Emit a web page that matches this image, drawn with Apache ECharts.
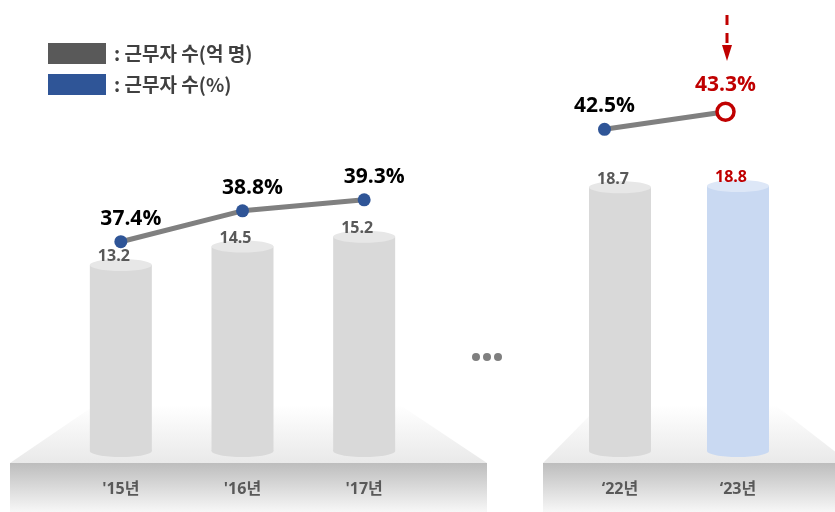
<!DOCTYPE html>
<html>
<head>
<meta charset="utf-8">
<script src="https://cdn.jsdelivr.net/npm/echarts@6/dist/echarts.min.js"></script>
<style>
  html, body { margin: 0; padding: 0; background: #fff; }
  #main { width: 835px; height: 512px; }
</style>
</head>
<body>
<div id="main"></div>
<script>
// data
var yearsA = ["'15년", "'16년", "'17년"];
var yearsB = ["‘22년", "‘23년"];
var workersA = [13.2, 14.5, 15.2];   // 억 명
var workersB = [18.7, 18.8];
var shareA = [37.4, 38.8, 39.3];     // %
var shareB = [42.5, 43.3];

var nameCount = ': 근무자 수(억 명)';
var nameShare = ': 근무자 수(%)';
var FONT = '"Open Sans", "Noto Sans CJK KR", sans-serif';
var FONT_KR = '"Noto Sans CJK KR", "Noto Sans", sans-serif';

var dom = document.getElementById('main');
var myChart = echarts.init(dom);

// cylinder bars (hiIndex = highlighted bar, -1 for none)
function cylinder(hiIndex) {
    return function (params, api) {
        var top = api.coord([api.value(0), api.value(1)]);
        var base = api.coord([api.value(0), 0]);
        var w = 62, ry = 6, cx = top[0];
        var hi = params.dataIndex === hiIndex;
        var body = hi ? '#c9d9f2' : '#d9d9d9';
        var cap = hi ? '#dde7f7' : '#e7e7e7';
        return {
            type: 'group',
            children: [
                { type: 'ellipse', shape: { cx: cx, cy: base[1], rx: w / 2, ry: ry }, style: { fill: body } },
                { type: 'rect', shape: { x: cx - w / 2, y: top[1], width: w, height: base[1] - top[1] }, style: { fill: body } },
                { type: 'ellipse', shape: { cx: cx, cy: top[1], rx: w / 2, ry: ry }, style: { fill: cap } },
                {
                    type: 'text',
                    style: {
                        text: api.value(1).toFixed(1),
                        x: cx - 7, y: top[1] - 8,
                        align: 'center', verticalAlign: 'middle',
                        textAlign: 'center', textVerticalAlign: 'middle',
                        fill: hi ? '#c00000' : '#595959',
                        font: 'bold 16px ' + FONT
                    }
                }
            ]
        };
    };
}

function lineData(values, hiLast) {
    return values.map(function (v, i) {
        if (hiLast && i === values.length - 1) {
            return {
                value: v,
                symbolSize: 17,
                itemStyle: { color: '#fff', borderColor: '#c00000', borderWidth: 3.5 },
                label: { color: '#c00000' }
            };
        }
        return v;
    });
}

var pctLabel = {
    show: true,
    position: 'top',
    distance: 6,
    formatter: '{c}%',
    color: '#000',
    fontSize: 21,
    fontWeight: 'bold',
    fontFamily: FONT
};

var catLabel = {
    margin: 30,
    color: '#595959',
    fontSize: 16,
    fontWeight: 'bold',
    fontFamily: FONT
};

var platformTop = new echarts.graphic.LinearGradient(0, 0, 0, 1, [
    { offset: 0, color: '#ffffff' }, { offset: 1, color: '#e9e9e9' }
]);
var platformFront = new echarts.graphic.LinearGradient(0, 0, 0, 1, [
    { offset: 0, color: '#bdbdbd' }, { offset: 1, color: '#f7f7f7' }
]);

var option = {
    animation: false,
    legend: {
        orient: 'vertical',
        left: 48,
        top: 43,
        padding: 0,
        itemWidth: 58,
        itemHeight: 21,
        itemGap: 10,
        selectedMode: false,
        textStyle: { color: '#404040', fontSize: 19, fontWeight: 'bold', fontFamily: FONT_KR, padding: [0, 0, 0, 3] },
        data: [
            { name: nameCount, icon: 'rect', itemStyle: { color: '#595959' } },
            { name: nameShare, icon: 'rect', itemStyle: { color: '#2f5597', borderWidth: 0 } }
        ]
    },
    grid: [
        { left: 60, width: 365, top: 28, bottom: 61 },
        { left: 561, width: 236, top: 28, bottom: 61 },
        { left: 544, width: 242, top: 28, bottom: 61 }
    ],
    xAxis: [
        { gridIndex: 0, type: 'category', data: yearsA, z: 10, axisLine: { show: false }, axisTick: { show: false }, axisLabel: catLabel },
        { gridIndex: 1, type: 'category', data: yearsB, z: 10, axisLine: { show: false }, axisTick: { show: false }, axisLabel: catLabel },
        { gridIndex: 2, type: 'category', data: yearsB, show: false }
    ],
    yAxis: [
        { gridIndex: 0, type: 'value', min: 0, max: 30, show: false },
        { gridIndex: 0, type: 'value', min: 27.9, max: 47.1, show: false },
        { gridIndex: 1, type: 'value', min: 0, max: 30, show: false },
        { gridIndex: 2, type: 'value', min: 27.9, max: 47.1, show: false }
    ],
    graphic: [
        // left platform
        { type: 'polygon', z: -10, shape: { points: [[10, 463], [95, 405], [400, 405], [487, 463]] }, style: { fill: platformTop } },
        { type: 'rect', z: -10, shape: { x: 10, y: 463, width: 477, height: 49 }, style: { fill: platformFront } },
        // right platform
        { type: 'polygon', z: -10, shape: { points: [[543, 463], [600, 405], [775, 405], [850, 463]] }, style: { fill: platformTop } },
        { type: 'rect', z: -10, shape: { x: 543, y: 463, width: 292, height: 49 }, style: { fill: platformFront } },
        // ellipsis dots
        { type: 'circle', shape: { cx: 476, cy: 357, r: 4 }, style: { fill: '#7f7f7f' } },
        { type: 'circle', shape: { cx: 487, cy: 357, r: 4 }, style: { fill: '#7f7f7f' } },
        { type: 'circle', shape: { cx: 498, cy: 357, r: 4 }, style: { fill: '#7f7f7f' } },
        // red dashed arrow
        { type: 'line', shape: { x1: 727, y1: 15, x2: 727, y2: 46 }, style: { stroke: '#c00000', lineWidth: 3, lineDash: [10, 8] } },
        { type: 'polygon', shape: { points: [[722, 45], [732, 45], [727, 61]] }, style: { fill: '#c00000' } }
    ],
    series: [
        {
            name: nameCount,
            type: 'custom',
            xAxisIndex: 0, yAxisIndex: 0,
            clip: false,
            renderItem: cylinder(-1),
            data: workersA.map(function (v, i) { return [i, v]; })
        },
        {
            name: nameCount,
            type: 'custom',
            xAxisIndex: 1, yAxisIndex: 2,
            clip: false,
            renderItem: cylinder(workersB.length - 1),
            data: workersB.map(function (v, i) { return [i, v]; })
        },
        {
            name: nameShare,
            type: 'line',
            xAxisIndex: 0, yAxisIndex: 1,
            z: 5,
            symbol: 'circle',
            symbolSize: 13,
            itemStyle: { color: '#2f5597' },
            lineStyle: { color: '#808080', width: 5 },
            label: Object.assign({}, pctLabel, { offset: [10, 0] }),
            data: lineData(shareA, false)
        },
        {
            name: nameShare,
            type: 'line',
            xAxisIndex: 2, yAxisIndex: 3,
            z: 5,
            symbol: 'circle',
            symbolSize: 13,
            itemStyle: { color: '#2f5597' },
            lineStyle: { color: '#808080', width: 5 },
            label: Object.assign({}, pctLabel, { offset: [0, 0] }),
            data: lineData(shareB, true)
        }
    ]
};

if (option && typeof option === 'object') {
    myChart.setOption(option, true);
}
</script>
</body>
</html>
